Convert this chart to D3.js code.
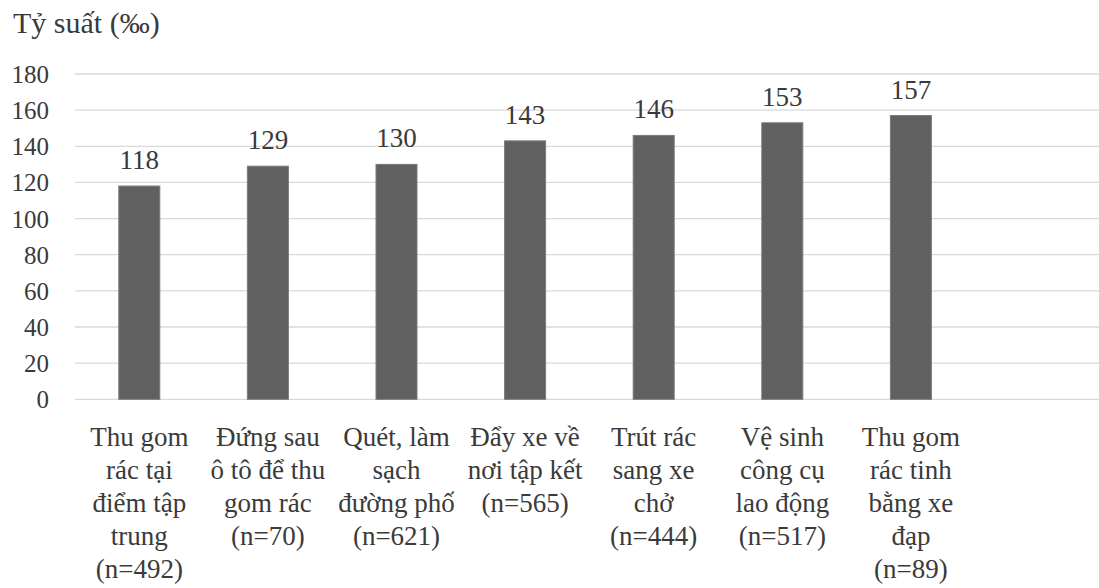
<!DOCTYPE html>
<html><head><meta charset="utf-8">
<script src="https://cdn.jsdelivr.net/npm/d3@7"></script>
<style>body{margin:0;background:#fff}svg{display:block}</style>
</head><body>
<svg id="c" width="1099" height="588"></svg>
<script>
const categories = [
  ["Thu gom","rác tại","điểm tập","trung","(n=492)"],
  ["Đứng sau","ô tô để thu","gom rác","(n=70)"],
  ["Quét, làm","sạch","đường phố","(n=621)"],
  ["Đẩy xe về","nơi tập kết","(n=565)"],
  ["Trút rác","sang xe","chở","(n=444)"],
  ["Vệ sinh","công cụ","lao động","(n=517)"],
  ["Thu gom","rác tinh","bằng xe","đạp","(n=89)"]
];
const values = [118,129,130,143,146,153,157];
const yTicks = [0,20,40,60,80,100,120,140,160,180];
const yTitle = "Tỷ suất (‰)";

(function(){
const W = 1099, H = 588;
const mLeft = 75, mTop = 74, mBottom = 399.3, step = 128.6;
const FF = "Liberation Serif";
const txt = "#3a3a3a";
const svg = d3.select("#c");
const keys = categories.map((d,i)=>i);
const x = d3.scaleBand().domain(keys).range([mLeft, mLeft + step*keys.length]).padding(0);
const y = d3.scaleLinear().domain([0,180]).range([mBottom, mTop]);

svg.append("g").selectAll("line").data(yTicks).join("line")
  .attr("x1", mLeft).attr("x2", W)
  .attr("y1", d=>y(d)).attr("y2", d=>y(d))
  .attr("stroke", "#d9d9d9").attr("stroke-width", 1.3);

const yAxis = d3.axisLeft(y).tickValues(yTicks).tickSize(0).tickPadding(0);
const ga = svg.append("g").attr("transform", `translate(49,0)`).call(yAxis);
ga.attr("font-family", FF).attr("font-size", 25);
ga.select(".domain").remove();
ga.selectAll("text").attr("font-family", FF).style("font-family", `"${FF}"`).attr("font-size", 25).attr("fill", txt).attr("dy","0.34em");

svg.append("text").attr("x", 13).attr("y", 33).text(yTitle)
  .attr("font-family", FF).style("font-family", `"${FF}"`).attr("font-size", 30).attr("fill", txt);

const bw = 41;
svg.append("g").selectAll("rect").data(values).join("rect")
  .attr("x", (d,i)=>x(i)+x.bandwidth()/2-bw/2)
  .attr("width", bw)
  .attr("y", d=>y(d)).attr("height", d=>y(0)-y(d))
  .attr("fill", "#606060").attr("stroke", "#7a7a7a").attr("stroke-width", 1);

svg.append("g").selectAll("text").data(values).join("text")
  .attr("x", (d,i)=>x(i)+x.bandwidth()/2)
  .attr("y", d=>y(d)-17)
  .attr("text-anchor","middle")
  .attr("font-family", FF).style("font-family", `"${FF}"`).attr("font-size", 27).attr("fill", txt)
  .text(d=>d);

const cg = svg.append("g").selectAll("text").data(categories).join("text")
  .attr("text-anchor","middle")
  .attr("font-family", FF).style("font-family", `"${FF}"`).attr("font-size", 27).attr("fill", txt);
cg.selectAll("tspan").data((d,i)=>d.map(s=>({s,i}))).join("tspan")
  .attr("x", d=>x(d.i)+x.bandwidth()/2)
  .attr("y", (d,j)=>445.5 + j*33.2)
  .text(d=>d.s);
})();
</script>
</body></html>
